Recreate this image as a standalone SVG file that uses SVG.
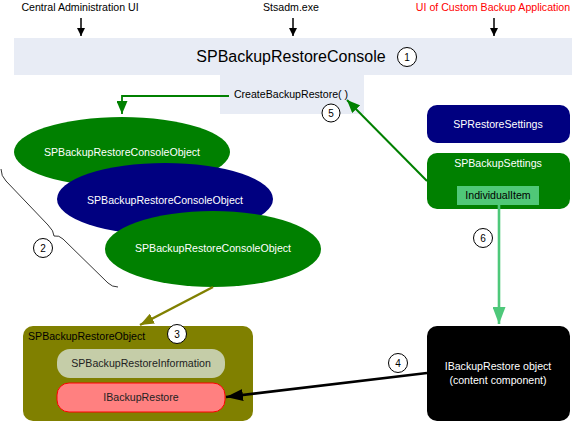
<svg xmlns="http://www.w3.org/2000/svg" width="572" height="422" viewBox="0 0 572 422">
<defs>
<style>
text{font-family:"Liberation Sans",Arial,sans-serif;font-size:10.6px}
.c{text-anchor:middle}
.w{fill:#ffffff}
.num{fill:#ffffff;stroke:#000000;stroke-width:1}
.nt{font-size:10px;text-anchor:middle}
</style>
<marker id="ab" viewBox="0 0 10 10" refX="10" refY="5" markerWidth="8" markerHeight="8" markerUnits="userSpaceOnUse" orient="auto"><path d="M0,0 L10,5 L0,10 z" fill="#000000"/></marker>
<marker id="ag" viewBox="0 0 10 10" refX="10" refY="5" markerWidth="13" markerHeight="11" markerUnits="userSpaceOnUse" orient="auto" preserveAspectRatio="none"><path d="M0,0 L10,5 L0,10 z" fill="#008000"/></marker>
<marker id="ao" viewBox="0 0 10 10" refX="10" refY="5" markerWidth="14" markerHeight="11" markerUnits="userSpaceOnUse" orient="auto" preserveAspectRatio="none"><path d="M0,0 L10,5 L0,10 z" fill="#808000"/></marker>
<marker id="al" viewBox="0 0 10 10" refX="10" refY="5" markerWidth="17" markerHeight="13" markerUnits="userSpaceOnUse" orient="auto" preserveAspectRatio="none"><path d="M0,0 L10,5 L0,10 z" fill="#4ec87a"/></marker>
<marker id="ak" viewBox="0 0 10 10" refX="10" refY="5" markerWidth="17" markerHeight="12" markerUnits="userSpaceOnUse" orient="auto" preserveAspectRatio="none"><path d="M0,0 L10,5 L0,10 z" fill="#000000"/></marker>
</defs>
<rect width="572" height="422" fill="#ffffff"/>

<g id="labels">
<text x="80" y="11" class="c">Central Administration UI</text>
<text x="291" y="11" class="c">Stsadm.exe</text>
<text x="493" y="11" class="c" fill="#ff0000">UI of Custom Backup Application</text>
</g>

<g id="console">
<rect x="14" y="38" width="558" height="37" fill="#e8ecf5"/>
<rect x="220" y="75" width="144" height="39" fill="#e8ecf5"/>
<text x="291" y="62" class="c" style="font-size:16px">SPBackupRestoreConsole</text>
<text x="291" y="98" class="c">CreateBackupRestore( )</text>
<circle cx="407" cy="57" r="9.5" class="num"/>
<text x="407" y="61" class="nt">1</text>
</g>

<g id="consoleObjects">
<ellipse cx="122" cy="152" rx="108" ry="35" fill="#008000"/>
<text x="122" y="156" class="c w">SPBackupRestoreConsoleObject</text>
<ellipse cx="165" cy="199" rx="108" ry="36" fill="#000080"/>
<text x="165" y="204" class="c w">SPBackupRestoreConsoleObject</text>
<ellipse cx="213" cy="249" rx="108" ry="38" fill="#008000"/>
<text x="213" y="252" class="c w">SPBackupRestoreConsoleObject</text>
</g>

<g id="brace">
<path d="M1,169 Q1,176 6,181 L48,225 Q54,231 54,236 Q59,235 63,239 L108,283 Q112,287 118,287" fill="none" stroke="#000000" stroke-width="0.8"/>
<circle cx="43" cy="248" r="9.5" class="num"/>
<text x="43" y="252" class="nt">2</text>
</g>

<g id="restoreSettings">
<rect x="427" y="105" width="143" height="38" rx="10" fill="#000080"/>
<text x="498" y="128" class="c w">SPRestoreSettings</text>
</g>

<g id="backupSettings">
<rect x="427" y="153" width="143" height="56" rx="10" fill="#008000"/>
<text x="498" y="167" class="c w">SPBackupSettings</text>
<rect x="457" y="186" width="82" height="19" fill="#50c878"/>
<text x="498" y="199" class="c">IndividualItem</text>
</g>

<g id="backupRestoreObject">
<rect x="23" y="326" width="230" height="95" rx="10" fill="#808000"/>
<text x="28" y="340">SPBackupRestoreObject</text>
<circle cx="177" cy="334" r="9.5" class="num"/>
<text x="177" y="338" class="nt">3</text>
<rect x="57" y="349" width="168" height="29" rx="13" fill="#c5cda8"/>
<text x="141" y="367" class="c" fill="#222222">SPBackupRestoreInformation</text>
<rect x="57" y="383" width="168" height="29" rx="12" fill="#ff8080" stroke="#ff0000" stroke-width="1"/>
<text x="141" y="401" class="c" fill="#222222">IBackupRestore</text>
</g>

<g id="contentComponent">
<rect x="427" y="326" width="143" height="95" rx="10" fill="#000000"/>
<text x="498" y="370" class="c w">IBackupRestore object</text>
<text x="498" y="384" class="c w">(content component)</text>
</g>

<g id="connectors">
<line x1="81" y1="18" x2="81" y2="36" stroke="#000000" stroke-width="1.5" marker-end="url(#ab)"/>
<line x1="293" y1="18" x2="293" y2="36" stroke="#000000" stroke-width="1.5" marker-end="url(#ab)"/>
<line x1="494" y1="18" x2="494" y2="36" stroke="#000000" stroke-width="1.5" marker-end="url(#ab)"/>
<polyline points="229,96 122,96 122,114" fill="none" stroke="#008000" stroke-width="1.8" marker-end="url(#ag)"/>
<line x1="427" y1="181" x2="347" y2="100" stroke="#008000" stroke-width="2" marker-end="url(#ag)"/>
<line x1="213" y1="287" x2="140" y2="325" stroke="#808000" stroke-width="2.5" marker-end="url(#ao)"/>
<line x1="499" y1="205" x2="499" y2="324" stroke="#4ec87a" stroke-width="2.6" marker-end="url(#al)"/>
<line x1="427" y1="373" x2="226" y2="397" stroke="#000000" stroke-width="2.6" marker-end="url(#ak)"/>
<circle cx="331" cy="113" r="9" class="num"/>
<text x="331" y="117" class="nt">5</text>
<circle cx="483" cy="238" r="9.5" class="num"/>
<text x="483" y="242" class="nt">6</text>
<circle cx="398" cy="363" r="9.5" class="num"/>
<text x="398" y="367" class="nt">4</text>
</g>
</svg>
